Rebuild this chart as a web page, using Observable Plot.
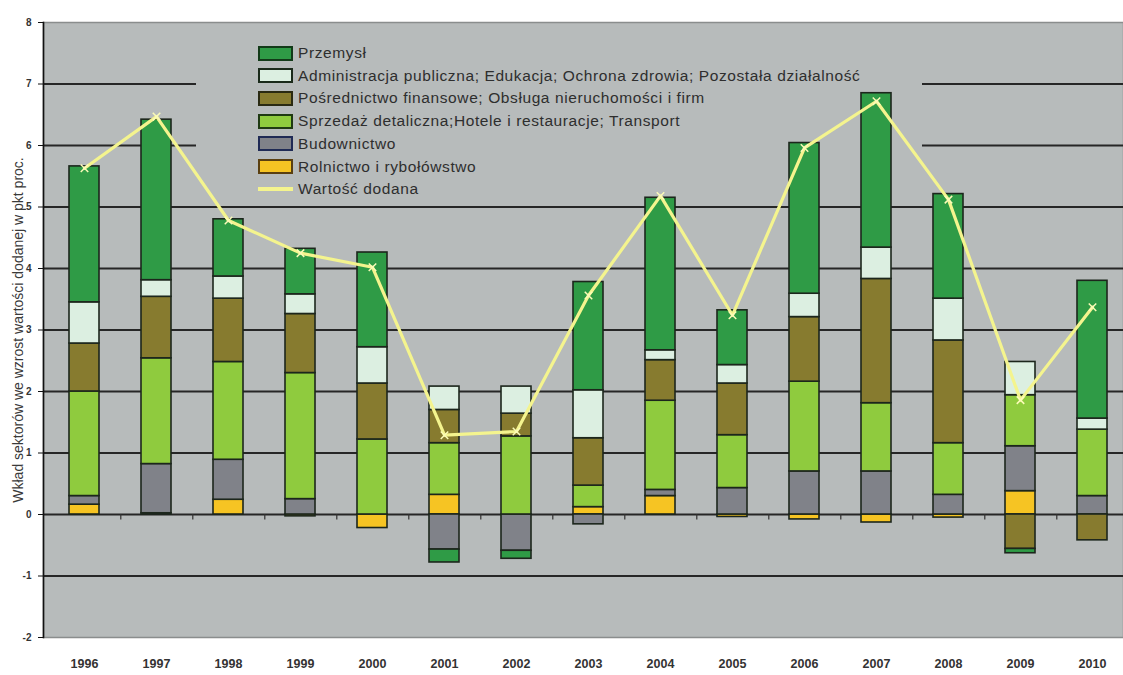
<!DOCTYPE html>
<html>
<head>
<meta charset="utf-8">
<script src="https://cdn.jsdelivr.net/npm/d3@7"></script>
<script src="https://cdn.jsdelivr.net/npm/@observablehq/plot@0.6"></script>
<style>
  html, body { margin: 0; padding: 0; background: white; }
  #wrap { position: relative; width: 1123px; height: 675px; overflow: hidden; font-family: "Liberation Sans", Arial, sans-serif; }
  #wrap > .layer { position: absolute; left: 0; top: 0; }
  #legend { position: absolute; left: 196px; top: 25px; width: 726px; height: 176px; background: #b7bbbb; }
  .row { position: absolute; left: 62px; height: 20px; display: flex; align-items: center; font-size: 15.5px; color: #2e2e2e; white-space: nowrap; letter-spacing: 0.6px; }
  .sw { width: 31px; height: 11px; border: 2px solid #222; margin-right: 5px; box-sizing: content-box; }
  .ln { width: 35px; height: 4px; margin-right: 5px; }
</style>
</head>
<body>
<div id="wrap"></div>
<script>
const years = ["1996","1997","1998","1999","2000","2001","2002","2003","2004","2005","2006","2007","2008","2009","2010"];
const sectors = [
  "Rolnictwo i rybołówstwo",
  "Budownictwo",
  "Sprzedaż detaliczna;Hotele i restauracje; Transport",
  "Pośrednictwo finansowe; Obsługa nieruchomości i firm",
  "Administracja publiczna; Edukacja; Ochrona zdrowia; Pozostała działalność",
  "Przemysł"
];
const sectorColors = ["#f6c423", "#808289", "#8fcb3e", "#877b2f", "#dcefe1", "#2f9b46"];
const sectorBorders = ["#5a3f10", "#1f2a55", "#1f3a12", "#2a2a12", "#1a2a1a", "#123a18"];
const rolnictwo     = [0.16, 0.02, 0.24, -0.03, -0.22, 0.32, 0.00, 0.12, 0.30, -0.04, -0.08, -0.13, -0.05, 0.38, 0.00];
const budownictwo   = [0.14, 0.80, 0.65, 0.25, 0.00, -0.57, -0.59, -0.16, 0.10, 0.43, 0.70, 0.70, 0.32, 0.73, 0.30];
const sprzedaz      = [1.70, 1.72, 1.59, 2.05, 1.22, 0.84, 1.27, 0.35, 1.45, 0.86, 1.46, 1.11, 0.84, 0.83, 1.08];
const posrednictwo  = [0.78, 1.00, 1.03, 0.96, 0.91, 0.54, 0.37, 0.77, 0.66, 0.84, 1.05, 2.02, 1.67, -0.56, -0.42];
const administracja = [0.67, 0.27, 0.36, 0.32, 0.59, 0.38, 0.44, 0.78, 0.16, 0.30, 0.38, 0.51, 0.68, 0.54, 0.18];
const przemysl      = [2.21, 2.61, 0.93, 0.74, 1.54, -0.21, -0.13, 1.76, 2.48, 0.89, 2.45, 2.51, 1.70, -0.07, 2.24];
const wartoscDodana = [5.63, 6.47, 4.78, 4.25, 4.02, 1.29, 1.35, 3.56, 5.18, 3.24, 5.96, 6.72, 5.12, 1.86, 3.37];
const lineLabel = "Wartość dodana";
const yTicks = [-2, -1, 0, 1, 2, 3, 4, 5, 6, 7, 8];
const yTitle = "Wkład sektorów we wzrost wartości dodanej w pkt proc.";

const seriesValues = [rolnictwo, budownictwo, sprzedaz, posrednictwo, administracja, przemysl];
const stacked = [];
sectors.forEach((s, i) => years.forEach((y, j) => {
  const v = seriesValues[i][j];
  if (v !== 0) stacked.push({year: y, sector: s, value: v});
}));
const lineData = years.map((y, j) => ({year: y, value: wartoscDodana[j]}));

const common = {
  width: 1123, height: 675,
  marginTop: 22, marginBottom: 38, marginLeft: 43, marginRight: 0,
  color: {domain: sectors, range: sectorColors}
};
const xOpts = {domain: years, range: [44, 1132], paddingInner: 0.58, paddingOuter: 0.29, label: null};
const yOpts = {domain: [-2, 8], label: null};

const back = Plot.plot({
  ...common,
  x: {...xOpts, axis: null},
  y: {...yOpts, axis: null},
  style: {background: "white", overflow: "visible"},
  marks: [
    Plot.frame({fill: "#b7bbbb", stroke: "#8a8d8d", strokeWidth: 1.5}),
    Plot.gridY(yTicks.filter(d => d > -2 && d < 8), {stroke: "#262626", strokeWidth: 2, strokeOpacity: 1})
  ]
});

const front = Plot.plot({
  ...common,
  x: xOpts,
  y: yOpts,
  style: {background: "transparent", overflow: "visible", fontFamily: "Liberation Sans, Arial, sans-serif"},
  marks: [
    Plot.barY(stacked, {x: "year", y: "value", fill: "sector", stroke: "#1c261c", strokeWidth: 1.6}),
    Plot.ruleX(years, {x: d => d, dx: 36.3, y1: 0, y2: -0.09, stroke: "#333", strokeWidth: 1.2}),
    Plot.lineY(lineData, {x: "year", y: "value", stroke: "#f4f48e", strokeWidth: 3.2}),
    Plot.dot(lineData, {x: "year", y: "value", symbol: "times", r: 3.5, stroke: "#fbfbb8", strokeWidth: 1.5}),
    Plot.frame({anchor: "left", stroke: "#111", strokeWidth: 1.6}),
    Plot.axisY(yTicks, {tickSize: 5, tickPadding: 7, fontSize: 10, fontWeight: "bold", fill: "#333", stroke: "#111",
      tickFormat: d => String(d), label: null}),
    Plot.text([yTitle], {frameAnchor: "left", rotate: -90, dx: -25, fontSize: 14, fill: "#3a3a3a",
      textAnchor: "middle", lineAnchor: "middle", text: d => d}),
    Plot.axisX({tickSize: 0, tickPadding: 22, fontSize: 12.5, fontWeight: "bold", fill: "#333"})
  ]
});

const wrap = document.getElementById("wrap");
back.classList.add("layer");
front.classList.add("layer");
wrap.appendChild(back);

const legend = document.createElement("div");
legend.id = "legend";
const legendOrder = [5, 4, 3, 2, 1, 0];
legendOrder.forEach((idx, k) => {
  const row = document.createElement("div");
  row.className = "row";
  row.style.top = (18 + k * 22.7) + "px";
  const sw = document.createElement("div");
  sw.className = "sw";
  sw.style.background = sectorColors[idx];
  sw.style.borderColor = sectorBorders[idx];
  row.appendChild(sw);
  const t = document.createElement("span");
  t.textContent = sectors[idx];
  row.appendChild(t);
  legend.appendChild(row);
});
const lrow = document.createElement("div");
lrow.className = "row";
lrow.style.top = (18 + 6 * 22.7) + "px";
const ln = document.createElement("div");
ln.className = "ln";
ln.style.background = "#f4f48e";
lrow.appendChild(ln);
const lt = document.createElement("span");
lt.textContent = lineLabel;
lrow.appendChild(lt);
legend.appendChild(lrow);
wrap.appendChild(legend);
wrap.appendChild(front);
</script>
</body>
</html>
